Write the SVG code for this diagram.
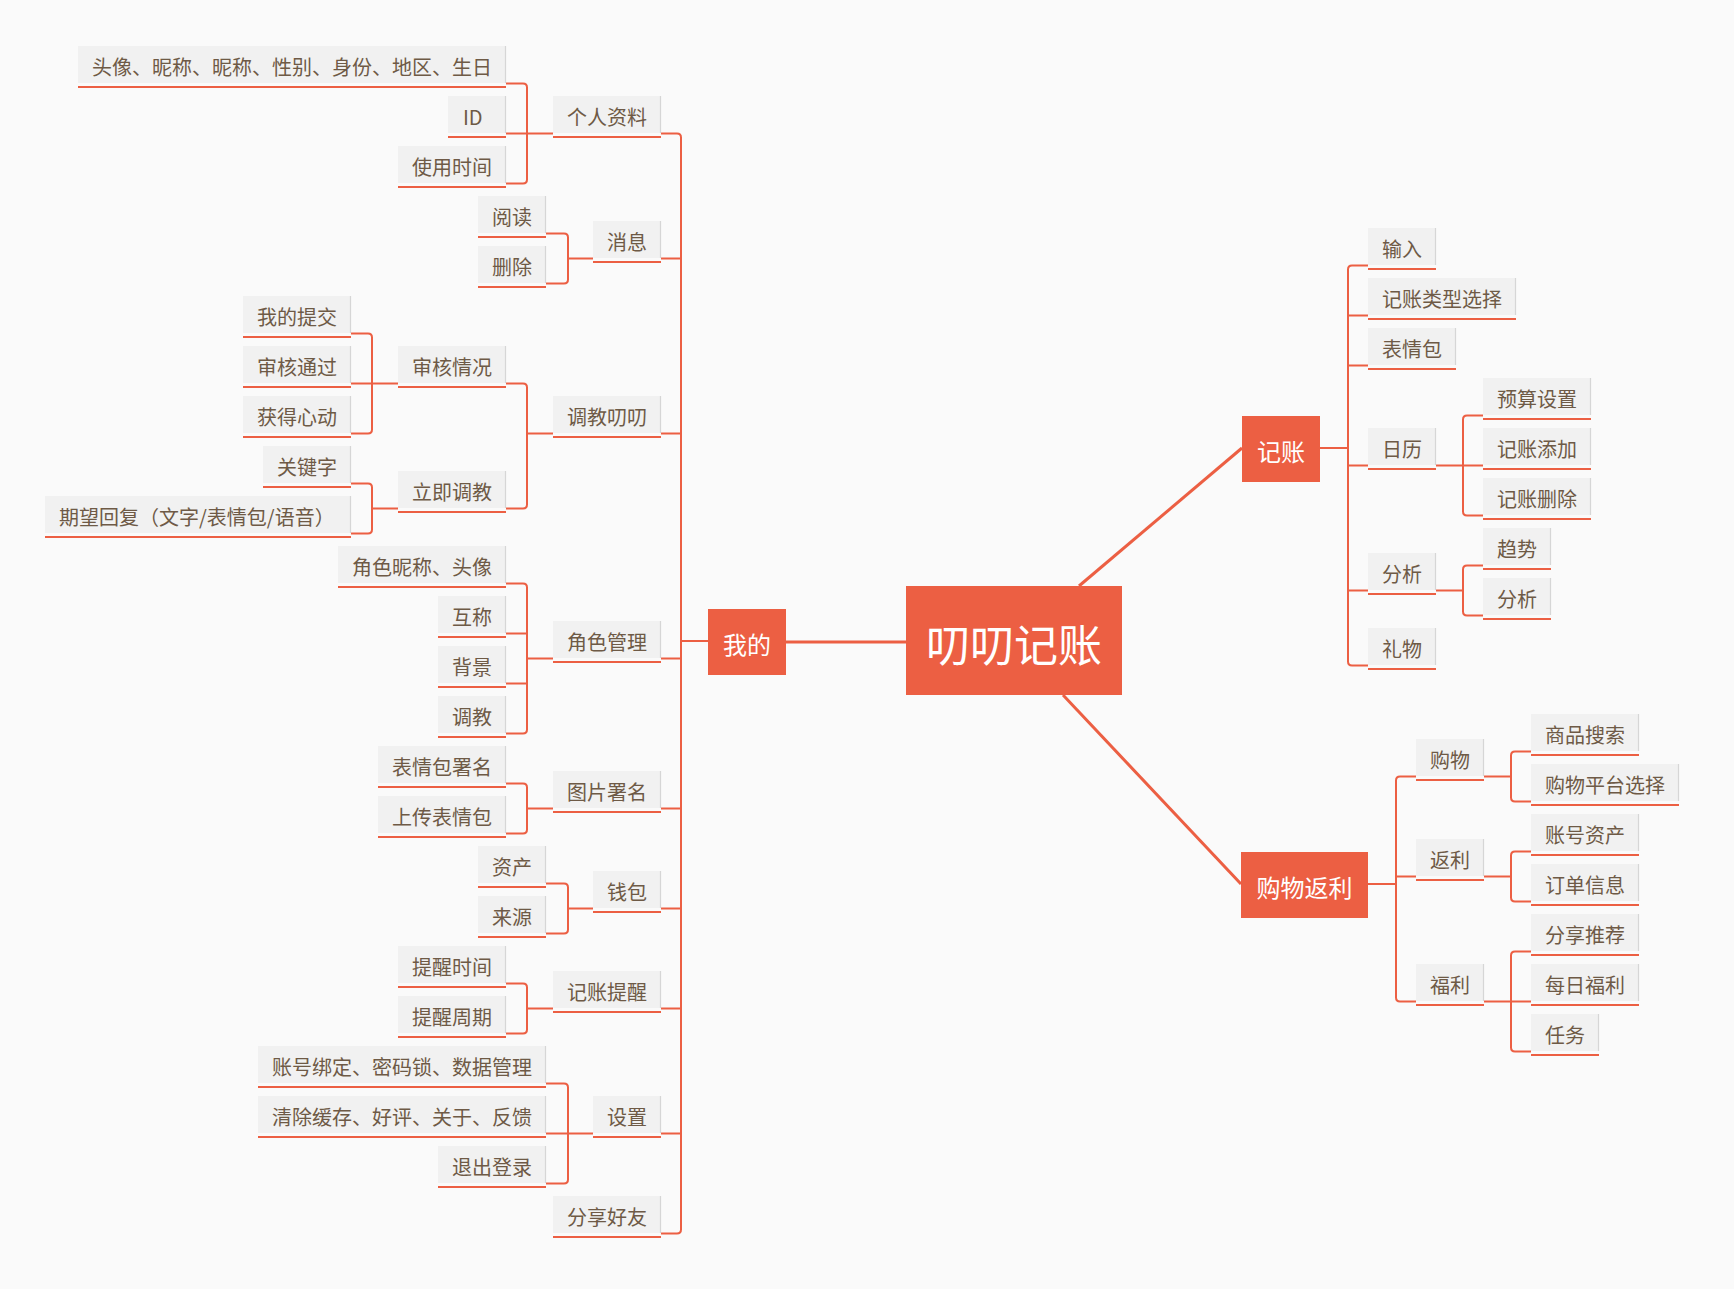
<svg xmlns="http://www.w3.org/2000/svg" width="1734" height="1289" viewBox="0 0 1734 1289">
<style>
.bg{fill:#fafafa}
.box{fill:#f1f1f1}
.edge{stroke:#d6d6d6;stroke-width:1.2}
.ul{fill:#ec5f43}
.t{font-family:"Noto Sans CJK SC","Noto Sans",sans-serif;font-size:20px;fill:#6e5a46}
.mbox{fill:#ec5f43}
.mt{font-family:"Noto Sans CJK SC","Noto Sans",sans-serif;font-size:24px;fill:#ffffff;text-anchor:middle}
.ct{font-family:"Noto Sans CJK SC","Noto Sans",sans-serif;font-size:44px;fill:#ffffff;text-anchor:middle}
.c{fill:none;stroke:#ec5f43;stroke-width:2}
.cm{fill:none;stroke:#ec5f43;stroke-width:3}
</style>
<rect class="bg" x="0" y="0" width="1734" height="1289"/>

<g id="connectors">
<path class="cm" d="M786,642 H906"/>
<path class="cm" d="M1079,586 L1242,448"/>
<path class="cm" d="M1063,695 L1241,884"/>
<path class="c" d="M661,133.5 H677 Q681,133.5 681,137.5 V1229.5 Q681,1233.5 677,1233.5 H661 M661,258.5 H681 M661,433.5 H681 M661,658.5 H681 M661,808.5 H681 M661,908.5 H681 M661,1008.5 H681 M661,1133.5 H681 M681,641 H708"/>
<path class="c" d="M553,133.5 H527 M506,83.5 H523 Q527,83.5 527,87.5 V179.5 Q527,183.5 523,183.5 H506 M506,133.5 H527"/>
<path class="c" d="M593,258.5 H568 M546,233.5 H564 Q568,233.5 568,237.5 V279.5 Q568,283.5 564,283.5 H546"/>
<path class="c" d="M553,433.5 H527 M506,383.5 H523 Q527,383.5 527,387.5 V504.5 Q527,508.5 523,508.5 H506"/>
<path class="c" d="M398,383.5 H372 M351,333.5 H368 Q372,333.5 372,337.5 V429.5 Q372,433.5 368,433.5 H351 M351,383.5 H372"/>
<path class="c" d="M398,508.5 H372 M351,483.5 H368 Q372,483.5 372,487.5 V529.5 Q372,533.5 368,533.5 H351"/>
<path class="c" d="M553,658.5 H527 M506,583.5 H523 Q527,583.5 527,587.5 V729.5 Q527,733.5 523,733.5 H506 M506,633.5 H527 M506,683.5 H527"/>
<path class="c" d="M553,808.5 H527 M506,783.5 H523 Q527,783.5 527,787.5 V829.5 Q527,833.5 523,833.5 H506"/>
<path class="c" d="M593,908.5 H568 M546,883.5 H564 Q568,883.5 568,887.5 V929.5 Q568,933.5 564,933.5 H546"/>
<path class="c" d="M553,1008.5 H527 M506,983.5 H523 Q527,983.5 527,987.5 V1029.5 Q527,1033.5 523,1033.5 H506"/>
<path class="c" d="M593,1133.5 H568 M546,1083.5 H564 Q568,1083.5 568,1087.5 V1179.5 Q568,1183.5 564,1183.5 H546 M546,1133.5 H568"/>
<path class="c" d="M1320,448 H1348 M1368,265.5 H1352 Q1348,265.5 1348,269.5 V661.5 Q1348,665.5 1352,665.5 H1368 M1368,315.5 H1348 M1368,365.5 H1348 M1368,465.5 H1348 M1368,590.5 H1348"/>
<path class="c" d="M1436,465.5 H1463 M1483,415.5 H1467 Q1463,415.5 1463,419.5 V511.5 Q1463,515.5 1467,515.5 H1483 M1483,465.5 H1463"/>
<path class="c" d="M1436,590.5 H1463 M1483,565.5 H1467 Q1463,565.5 1463,569.5 V611.5 Q1463,615.5 1467,615.5 H1483"/>
<path class="c" d="M1368,884 H1396 M1416,776.5 H1400 Q1396,776.5 1396,780.5 V997.5 Q1396,1001.5 1400,1001.5 H1416 M1416,876.5 H1396"/>
<path class="c" d="M1484,776.5 H1511 M1531,751.5 H1515 Q1511,751.5 1511,755.5 V797.5 Q1511,801.5 1515,801.5 H1531"/>
<path class="c" d="M1484,876.5 H1511 M1531,851.5 H1515 Q1511,851.5 1511,855.5 V897.5 Q1511,901.5 1515,901.5 H1531"/>
<path class="c" d="M1484,1001.5 H1511 M1531,951.5 H1515 Q1511,951.5 1511,955.5 V1047.5 Q1511,1051.5 1515,1051.5 H1531 M1531,1001.5 H1511"/>
</g>

<g id="n-root"><rect class="mbox" x="906" y="586" width="216" height="109"/><text class="ct" x="1014" y="662">叨叨记账</text></g>
<g id="n-wode"><rect class="mbox" x="708" y="609" width="78" height="66"/><text class="mt" x="747" y="653.5">我的</text></g>
<g id="n-jizhang"><rect class="mbox" x="1242" y="416" width="78" height="66"/><text class="mt" x="1281" y="460.5">记账</text></g>
<g id="n-gouwufanli"><rect class="mbox" x="1241" y="852" width="127" height="66"/><text class="mt" x="1304.5" y="896.5">购物返利</text></g>

<g id="n-gerenziliao"><rect class="box" x="553" y="96" width="108" height="37"/><line class="edge" x1="660.5" y1="96" x2="660.5" y2="133"/><rect class="ul" x="553" y="136" width="108" height="2"/><text class="t" x="567" y="125">个人资料</text></g>
<g id="n-xiaoxi"><rect class="box" x="593" y="221" width="68" height="37"/><line class="edge" x1="660.5" y1="221" x2="660.5" y2="258"/><rect class="ul" x="593" y="261" width="68" height="2"/><text class="t" x="607" y="250">消息</text></g>
<g id="n-tiaojiao"><rect class="box" x="553" y="396" width="108" height="37"/><line class="edge" x1="660.5" y1="396" x2="660.5" y2="433"/><rect class="ul" x="553" y="436" width="108" height="2"/><text class="t" x="567" y="425">调教叨叨</text></g>
<g id="n-juese"><rect class="box" x="553" y="621" width="108" height="37"/><line class="edge" x1="660.5" y1="621" x2="660.5" y2="658"/><rect class="ul" x="553" y="661" width="108" height="2"/><text class="t" x="567" y="650">角色管理</text></g>
<g id="n-tupian"><rect class="box" x="553" y="771" width="108" height="37"/><line class="edge" x1="660.5" y1="771" x2="660.5" y2="808"/><rect class="ul" x="553" y="811" width="108" height="2"/><text class="t" x="567" y="800">图片署名</text></g>
<g id="n-qianbao"><rect class="box" x="593" y="871" width="68" height="37"/><line class="edge" x1="660.5" y1="871" x2="660.5" y2="908"/><rect class="ul" x="593" y="911" width="68" height="2"/><text class="t" x="607" y="900">钱包</text></g>
<g id="n-tixing"><rect class="box" x="553" y="971" width="108" height="37"/><line class="edge" x1="660.5" y1="971" x2="660.5" y2="1008"/><rect class="ul" x="553" y="1011" width="108" height="2"/><text class="t" x="567" y="1000">记账提醒</text></g>
<g id="n-shezhi"><rect class="box" x="593" y="1096" width="68" height="37"/><line class="edge" x1="660.5" y1="1096" x2="660.5" y2="1133"/><rect class="ul" x="593" y="1136" width="68" height="2"/><text class="t" x="607" y="1125">设置</text></g>
<g id="n-fenxiang"><rect class="box" x="553" y="1196" width="108" height="37"/><line class="edge" x1="660.5" y1="1196" x2="660.5" y2="1233"/><rect class="ul" x="553" y="1236" width="108" height="2"/><text class="t" x="567" y="1225">分享好友</text></g>

<g id="n-touxiang"><rect class="box" x="78" y="46" width="428" height="37"/><line class="edge" x1="505.5" y1="46" x2="505.5" y2="83"/><rect class="ul" x="78" y="86" width="428" height="2"/><text class="t" x="92" y="75">头像、昵称、昵称、性别、身份、地区、生日</text></g>
<g id="n-id"><rect class="box" x="448" y="96" width="58" height="37"/><line class="edge" x1="505.5" y1="96" x2="505.5" y2="133"/><rect class="ul" x="448" y="136" width="58" height="2"/><text class="t" x="463" y="125">ID</text></g>
<g id="n-shiyong"><rect class="box" x="398" y="146" width="108" height="37"/><line class="edge" x1="505.5" y1="146" x2="505.5" y2="183"/><rect class="ul" x="398" y="186" width="108" height="2"/><text class="t" x="412" y="175">使用时间</text></g>
<g id="n-yuedu"><rect class="box" x="478" y="196" width="68" height="37"/><line class="edge" x1="545.5" y1="196" x2="545.5" y2="233"/><rect class="ul" x="478" y="236" width="68" height="2"/><text class="t" x="492" y="225">阅读</text></g>
<g id="n-shanchu"><rect class="box" x="478" y="246" width="68" height="37"/><line class="edge" x1="545.5" y1="246" x2="545.5" y2="283"/><rect class="ul" x="478" y="286" width="68" height="2"/><text class="t" x="492" y="275">删除</text></g>
<g id="n-shenhe"><rect class="box" x="398" y="346" width="108" height="37"/><line class="edge" x1="505.5" y1="346" x2="505.5" y2="383"/><rect class="ul" x="398" y="386" width="108" height="2"/><text class="t" x="412" y="375">审核情况</text></g>
<g id="n-liji"><rect class="box" x="398" y="471" width="108" height="37"/><line class="edge" x1="505.5" y1="471" x2="505.5" y2="508"/><rect class="ul" x="398" y="511" width="108" height="2"/><text class="t" x="412" y="500">立即调教</text></g>
<g id="n-jsnc"><rect class="box" x="338" y="546" width="168" height="37"/><line class="edge" x1="505.5" y1="546" x2="505.5" y2="583"/><rect class="ul" x="338" y="586" width="168" height="2"/><text class="t" x="352" y="575">角色昵称、头像</text></g>
<g id="n-huchen"><rect class="box" x="438" y="596" width="68" height="37"/><line class="edge" x1="505.5" y1="596" x2="505.5" y2="633"/><rect class="ul" x="438" y="636" width="68" height="2"/><text class="t" x="452" y="625">互称</text></g>
<g id="n-beijing"><rect class="box" x="438" y="646" width="68" height="37"/><line class="edge" x1="505.5" y1="646" x2="505.5" y2="683"/><rect class="ul" x="438" y="686" width="68" height="2"/><text class="t" x="452" y="675">背景</text></g>
<g id="n-tj"><rect class="box" x="438" y="696" width="68" height="37"/><line class="edge" x1="505.5" y1="696" x2="505.5" y2="733"/><rect class="ul" x="438" y="736" width="68" height="2"/><text class="t" x="452" y="725">调教</text></g>
<g id="n-bqbsm"><rect class="box" x="378" y="746" width="128" height="37"/><line class="edge" x1="505.5" y1="746" x2="505.5" y2="783"/><rect class="ul" x="378" y="786" width="128" height="2"/><text class="t" x="392" y="775">表情包署名</text></g>
<g id="n-scbqb"><rect class="box" x="378" y="796" width="128" height="37"/><line class="edge" x1="505.5" y1="796" x2="505.5" y2="833"/><rect class="ul" x="378" y="836" width="128" height="2"/><text class="t" x="392" y="825">上传表情包</text></g>
<g id="n-zichan"><rect class="box" x="478" y="846" width="68" height="37"/><line class="edge" x1="545.5" y1="846" x2="545.5" y2="883"/><rect class="ul" x="478" y="886" width="68" height="2"/><text class="t" x="492" y="875">资产</text></g>
<g id="n-laiyuan"><rect class="box" x="478" y="896" width="68" height="37"/><line class="edge" x1="545.5" y1="896" x2="545.5" y2="933"/><rect class="ul" x="478" y="936" width="68" height="2"/><text class="t" x="492" y="925">来源</text></g>
<g id="n-txsj"><rect class="box" x="398" y="946" width="108" height="37"/><line class="edge" x1="505.5" y1="946" x2="505.5" y2="983"/><rect class="ul" x="398" y="986" width="108" height="2"/><text class="t" x="412" y="975">提醒时间</text></g>
<g id="n-txzq"><rect class="box" x="398" y="996" width="108" height="37"/><line class="edge" x1="505.5" y1="996" x2="505.5" y2="1033"/><rect class="ul" x="398" y="1036" width="108" height="2"/><text class="t" x="412" y="1025">提醒周期</text></g>
<g id="n-zhbd"><rect class="box" x="258" y="1046" width="288" height="37"/><line class="edge" x1="545.5" y1="1046" x2="545.5" y2="1083"/><rect class="ul" x="258" y="1086" width="288" height="2"/><text class="t" x="272" y="1075">账号绑定、密码锁、数据管理</text></g>
<g id="n-qchc"><rect class="box" x="258" y="1096" width="288" height="37"/><line class="edge" x1="545.5" y1="1096" x2="545.5" y2="1133"/><rect class="ul" x="258" y="1136" width="288" height="2"/><text class="t" x="272" y="1125">清除缓存、好评、关于、反馈</text></g>
<g id="n-tcdl"><rect class="box" x="438" y="1146" width="108" height="37"/><line class="edge" x1="545.5" y1="1146" x2="545.5" y2="1183"/><rect class="ul" x="438" y="1186" width="108" height="2"/><text class="t" x="452" y="1175">退出登录</text></g>

<g id="n-wdtj"><rect class="box" x="243" y="296" width="108" height="37"/><line class="edge" x1="350.5" y1="296" x2="350.5" y2="333"/><rect class="ul" x="243" y="336" width="108" height="2"/><text class="t" x="257" y="325">我的提交</text></g>
<g id="n-shtg"><rect class="box" x="243" y="346" width="108" height="37"/><line class="edge" x1="350.5" y1="346" x2="350.5" y2="383"/><rect class="ul" x="243" y="386" width="108" height="2"/><text class="t" x="257" y="375">审核通过</text></g>
<g id="n-hdxd"><rect class="box" x="243" y="396" width="108" height="37"/><line class="edge" x1="350.5" y1="396" x2="350.5" y2="433"/><rect class="ul" x="243" y="436" width="108" height="2"/><text class="t" x="257" y="425">获得心动</text></g>
<g id="n-gjz"><rect class="box" x="263" y="446" width="88" height="37"/><line class="edge" x1="350.5" y1="446" x2="350.5" y2="483"/><rect class="ul" x="263" y="486" width="88" height="2"/><text class="t" x="277" y="475">关键字</text></g>
<g id="n-qwhf"><rect class="box" x="45" y="496" width="306" height="37"/><line class="edge" x1="350.5" y1="496" x2="350.5" y2="533"/><rect class="ul" x="45" y="536" width="306" height="2"/><text class="t" x="59" y="525">期望回复（文字/表情包/语音）</text></g>

<g id="n-shuru"><rect class="box" x="1368" y="228" width="68" height="37"/><line class="edge" x1="1435.5" y1="228" x2="1435.5" y2="265"/><rect class="ul" x="1368" y="268" width="68" height="2"/><text class="t" x="1382" y="257">输入</text></g>
<g id="n-lxxz"><rect class="box" x="1368" y="278" width="148" height="37"/><line class="edge" x1="1515.5" y1="278" x2="1515.5" y2="315"/><rect class="ul" x="1368" y="318" width="148" height="2"/><text class="t" x="1382" y="307">记账类型选择</text></g>
<g id="n-bqb"><rect class="box" x="1368" y="328" width="88" height="37"/><line class="edge" x1="1455.5" y1="328" x2="1455.5" y2="365"/><rect class="ul" x="1368" y="368" width="88" height="2"/><text class="t" x="1382" y="357">表情包</text></g>
<g id="n-rili"><rect class="box" x="1368" y="428" width="68" height="37"/><line class="edge" x1="1435.5" y1="428" x2="1435.5" y2="465"/><rect class="ul" x="1368" y="468" width="68" height="2"/><text class="t" x="1382" y="457">日历</text></g>
<g id="n-fenxi"><rect class="box" x="1368" y="553" width="68" height="37"/><line class="edge" x1="1435.5" y1="553" x2="1435.5" y2="590"/><rect class="ul" x="1368" y="593" width="68" height="2"/><text class="t" x="1382" y="582">分析</text></g>
<g id="n-liwu"><rect class="box" x="1368" y="628" width="68" height="37"/><line class="edge" x1="1435.5" y1="628" x2="1435.5" y2="665"/><rect class="ul" x="1368" y="668" width="68" height="2"/><text class="t" x="1382" y="657">礼物</text></g>
<g id="n-yssz"><rect class="box" x="1483" y="378" width="108" height="37"/><line class="edge" x1="1590.5" y1="378" x2="1590.5" y2="415"/><rect class="ul" x="1483" y="418" width="108" height="2"/><text class="t" x="1497" y="407">预算设置</text></g>
<g id="n-jztj"><rect class="box" x="1483" y="428" width="108" height="37"/><line class="edge" x1="1590.5" y1="428" x2="1590.5" y2="465"/><rect class="ul" x="1483" y="468" width="108" height="2"/><text class="t" x="1497" y="457">记账添加</text></g>
<g id="n-jzsc"><rect class="box" x="1483" y="478" width="108" height="37"/><line class="edge" x1="1590.5" y1="478" x2="1590.5" y2="515"/><rect class="ul" x="1483" y="518" width="108" height="2"/><text class="t" x="1497" y="507">记账删除</text></g>
<g id="n-qushi"><rect class="box" x="1483" y="528" width="68" height="37"/><line class="edge" x1="1550.5" y1="528" x2="1550.5" y2="565"/><rect class="ul" x="1483" y="568" width="68" height="2"/><text class="t" x="1497" y="557">趋势</text></g>
<g id="n-fenxi2"><rect class="box" x="1483" y="578" width="68" height="37"/><line class="edge" x1="1550.5" y1="578" x2="1550.5" y2="615"/><rect class="ul" x="1483" y="618" width="68" height="2"/><text class="t" x="1497" y="607">分析</text></g>

<g id="n-gouwu"><rect class="box" x="1416" y="739" width="68" height="37"/><line class="edge" x1="1483.5" y1="739" x2="1483.5" y2="776"/><rect class="ul" x="1416" y="779" width="68" height="2"/><text class="t" x="1430" y="768">购物</text></g>
<g id="n-fanli"><rect class="box" x="1416" y="839" width="68" height="37"/><line class="edge" x1="1483.5" y1="839" x2="1483.5" y2="876"/><rect class="ul" x="1416" y="879" width="68" height="2"/><text class="t" x="1430" y="868">返利</text></g>
<g id="n-fuli"><rect class="box" x="1416" y="964" width="68" height="37"/><line class="edge" x1="1483.5" y1="964" x2="1483.5" y2="1001"/><rect class="ul" x="1416" y="1004" width="68" height="2"/><text class="t" x="1430" y="993">福利</text></g>
<g id="n-spss"><rect class="box" x="1531" y="714" width="108" height="37"/><line class="edge" x1="1638.5" y1="714" x2="1638.5" y2="751"/><rect class="ul" x="1531" y="754" width="108" height="2"/><text class="t" x="1545" y="743">商品搜索</text></g>
<g id="n-gwpt"><rect class="box" x="1531" y="764" width="148" height="37"/><line class="edge" x1="1678.5" y1="764" x2="1678.5" y2="801"/><rect class="ul" x="1531" y="804" width="148" height="2"/><text class="t" x="1545" y="793">购物平台选择</text></g>
<g id="n-zhzc"><rect class="box" x="1531" y="814" width="108" height="37"/><line class="edge" x1="1638.5" y1="814" x2="1638.5" y2="851"/><rect class="ul" x="1531" y="854" width="108" height="2"/><text class="t" x="1545" y="843">账号资产</text></g>
<g id="n-ddxx"><rect class="box" x="1531" y="864" width="108" height="37"/><line class="edge" x1="1638.5" y1="864" x2="1638.5" y2="901"/><rect class="ul" x="1531" y="904" width="108" height="2"/><text class="t" x="1545" y="893">订单信息</text></g>
<g id="n-fxtj"><rect class="box" x="1531" y="914" width="108" height="37"/><line class="edge" x1="1638.5" y1="914" x2="1638.5" y2="951"/><rect class="ul" x="1531" y="954" width="108" height="2"/><text class="t" x="1545" y="943">分享推荐</text></g>
<g id="n-mrfl"><rect class="box" x="1531" y="964" width="108" height="37"/><line class="edge" x1="1638.5" y1="964" x2="1638.5" y2="1001"/><rect class="ul" x="1531" y="1004" width="108" height="2"/><text class="t" x="1545" y="993">每日福利</text></g>
<g id="n-renwu"><rect class="box" x="1531" y="1014" width="68" height="37"/><line class="edge" x1="1598.5" y1="1014" x2="1598.5" y2="1051"/><rect class="ul" x="1531" y="1054" width="68" height="2"/><text class="t" x="1545" y="1043">任务</text></g>
</svg>
